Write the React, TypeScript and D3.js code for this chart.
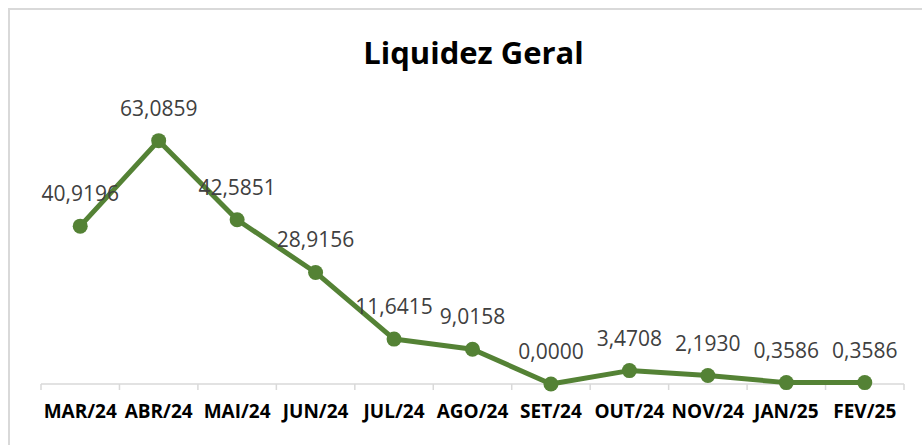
import React from "react";
import * as d3 from "d3";

const categories = ["MAR/24", "ABR/24", "MAI/24", "JUN/24", "JUL/24", "AGO/24", "SET/24", "OUT/24", "NOV/24", "JAN/25", "FEV/25"];
const values = [40.9196, 63.0859, 42.5851, 28.9156, 11.6415, 9.0158, 0.0, 3.4708, 2.193, 0.3586, 0.3586];
const title = "Liquidez Geral";

const W = 922;
const H = 445;
const left = 41;
const right = 904;
const axisY = 384;
const top = 114;

export default function App() {
  const x = d3.scaleBand<string>().domain(categories).range([left, right]).padding(0);
  const y = d3.scaleLinear().domain([0, 70]).range([axisY, top]);
  const cx = (c: string) => (x(c) as number) + x.bandwidth() / 2;
  const line = d3
    .line<number>()
    .x((_, i) => cx(categories[i]))
    .y((d) => y(d));
  const fmt = (v: number) => v.toFixed(4).replace(".", ",");
  const tickXs = categories.map((c) => x(c) as number).concat([right]);

  return (
    <svg
      width={W}
      height={H}
      style={{ position: "absolute", left: 0, top: 0, background: "#fff" }}
      fontFamily="'Open Sans', sans-serif"
    >
      <rect x={9} y={9} width={930} height={460} fill="#fff" stroke="#d9d9d9" strokeWidth={2} />
      <text x={473.5} y={64} textAnchor="middle" fontSize={31} fontWeight="bold" fill="#000">
        {title}
      </text>
      <line x1={left} x2={right} y1={axisY} y2={axisY} stroke="#d9d9d9" strokeWidth={1.5} />
      {tickXs.map((tx, i) => (
        <line key={i} x1={tx} x2={tx} y1={axisY} y2={axisY + 6} stroke="#d9d9d9" strokeWidth={1.5} />
      ))}
      {categories.map((c) => (
        <text key={c} x={cx(c)} y={418} textAnchor="middle" fontSize={19} fontWeight="bold" fill="#000">
          {c}
        </text>
      ))}
      <path d={line(values) as string} fill="none" stroke="#548235" strokeWidth={5} strokeLinejoin="round" />
      {values.map((v, i) => (
        <circle key={i} cx={cx(categories[i])} cy={y(v)} r={7.5} fill="#548235" />
      ))}
      {values.map((v, i) => (
        <text key={"l" + i} x={cx(categories[i])} y={y(v) - 25} textAnchor="middle" fontSize={21} fill="#404040">
          {fmt(v)}
        </text>
      ))}
    </svg>
  );
}
